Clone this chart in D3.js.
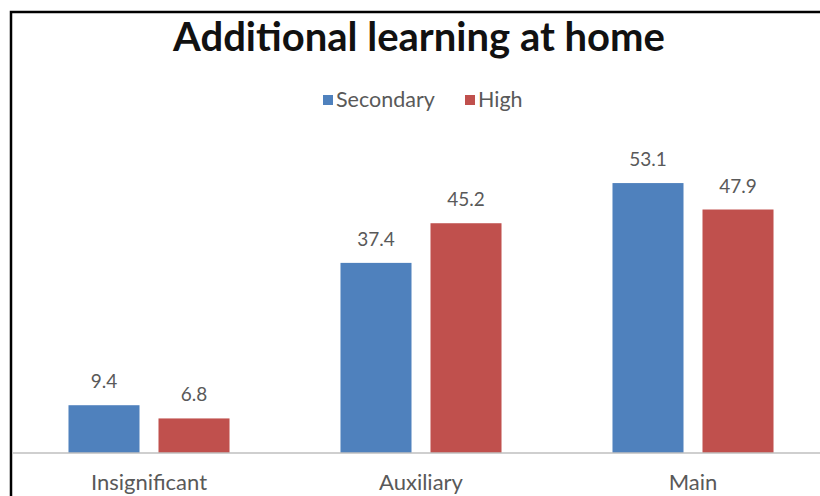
<!DOCTYPE html>
<html>
<head>
<meta charset="utf-8">
<script src="https://cdn.jsdelivr.net/npm/d3@7"></script>
<style>
  html, body { margin: 0; padding: 0; background: #fff; }
  svg { display: block; }
  text { font-family: Lato, "Open Sans", sans-serif; }
</style>
</head>
<body>
<svg id="chart" width="820" height="496"></svg>
<script>
const categories = ["Insignificant", "Auxiliary", "Main"];
const seriesNames = ["Secondary", "High"];
const secondaryValues = [9.4, 37.4, 53.1];
const highValues = [6.8, 45.2, 47.9];
const seriesColors = ["#4F81BD", "#C0504D"];
const titleText = "Additional learning at home";

const svg = d3.select("#chart");

const data = categories.map((c, i) => ({
  category: c,
  values: [
    { series: seriesNames[0], value: secondaryValues[i] },
    { series: seriesNames[1], value: highValues[i] }
  ]
}));

const baseY = 453;
const y = d3.scaleLinear().domain([0, 60]).range([baseY, baseY - 305]);

const x0 = d3.scaleBand()
  .domain(categories)
  .range([13, 829])
  .paddingInner(0.408)
  .paddingOuter(0.204);

const x1 = d3.scaleBand()
  .domain(seriesNames)
  .range([0, x0.bandwidth()])
  .paddingInner(0.211)
  .paddingOuter(0);

const color = d3.scaleOrdinal().domain(seriesNames).range(seriesColors);

// frame
svg.append("rect")
  .attr("x", 11).attr("y", 12)
  .attr("width", 830).attr("height", 520)
  .attr("fill", "none")
  .attr("stroke", "#000")
  .attr("stroke-width", 2.5);

// title
svg.append("text")
  .attr("x", 419).attr("y", 51)
  .attr("text-anchor", "middle")
  .attr("font-size", 40)
  .attr("font-weight", "bold")
  .attr("fill", "#111")
  .text(titleText);

// legend
const legend = svg.append("g").attr("class", "legend");
const legendItems = [
  { name: seriesNames[0], x: 323 },
  { name: seriesNames[1], x: 465 }
];
legendItems.forEach(it => {
  legend.append("rect")
    .attr("x", it.x).attr("y", 95)
    .attr("width", 10).attr("height", 10)
    .attr("fill", color(it.name));
  legend.append("text")
    .attr("x", it.x + 13).attr("y", 107)
    .attr("font-size", 21.5)
    .attr("fill", "#595959")
    .text(it.name);
});

// bars
const groups = svg.append("g").selectAll("g")
  .data(data)
  .join("g")
  .attr("transform", d => `translate(${x0(d.category)},0)`);

groups.selectAll("rect")
  .data(d => d.values)
  .join("rect")
  .attr("x", d => x1(d.series))
  .attr("y", d => y(d.value))
  .attr("width", x1.bandwidth())
  .attr("height", d => baseY - y(d.value))
  .attr("fill", d => color(d.series));

groups.selectAll("text.val")
  .data(d => d.values)
  .join("text")
  .attr("class", "val")
  .attr("x", d => x1(d.series) + x1.bandwidth() / 2)
  .attr("y", d => y(d.value) - 17)
  .attr("text-anchor", "middle")
  .attr("font-size", 19)
  .attr("fill", "#595959")
  .text(d => d.value.toFixed(1));

// x axis
const xAxis = d3.axisBottom(x0).tickSize(0).tickPadding(0);
const axisG = svg.append("g")
  .attr("transform", `translate(0,${baseY})`)
  .call(xAxis);
axisG.select(".domain").remove();
axisG.append("line")
  .attr("x1", 12).attr("x2", 820)
  .attr("y1", 0).attr("y2", 0)
  .attr("stroke", "#bfbfbf")
  .attr("stroke-width", 1.5);
axisG.selectAll(".tick text")
  .attr("dy", 0)
  .attr("y", 37)
  .attr("font-family", "Lato, 'Open Sans', sans-serif")
  .attr("font-size", 22)
  .attr("fill", "#595959");
</script>
</body>
</html>
